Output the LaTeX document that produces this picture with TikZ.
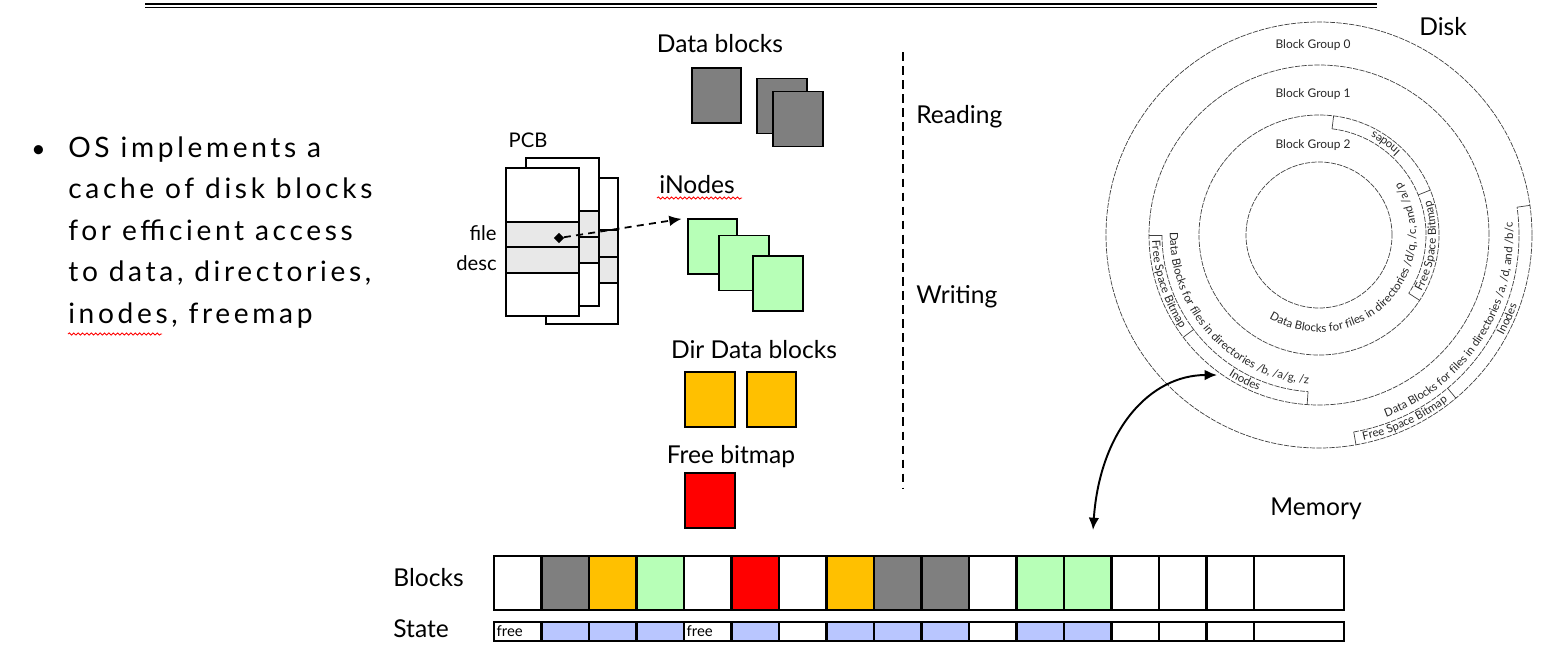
\documentclass[tikz,border=0pt]{standalone}
\usepackage{fontspec}
\setmainfont{Lato}
\newfontfamily\spacedfont[LetterSpace=13]{Lato}
\usetikzlibrary{arrows.meta,shapes.geometric,decorations.text,decorations.pathmorphing}
\newcommand{\ringfont}{\fontsize{6.5}{7.5}\selectfont}

\definecolor{blkgray}{HTML}{7F7F7F}
\definecolor{dirorange}{HTML}{FFC000}
\definecolor{inogreen}{HTML}{B7FFB7}
\definecolor{bmred}{HTML}{FF0000}
\definecolor{stblue}{HTML}{B9C6FF}
\definecolor{pcbgray}{HTML}{E8E8E8}

\begin{document}
\begin{tikzpicture}[x=0.02cm, y=0.02cm, >={Latex[length=7pt,width=6pt]},
    lbl/.style={font=\fontsize{14}{16}\selectfont, inner sep=0pt},
    small/.style={font=\fontsize{11.5}{13}\selectfont, inner sep=0pt},
    sq/.style={draw, line width=1.1pt, minimum width=0.99cm, minimum height=1.1cm, inner sep=0pt},
    cell/.style={draw, line width=1.6pt, minimum width=0.95cm, minimum height=1.08cm, inner sep=0pt},
    st/.style={draw, line width=1.3pt, minimum width=0.95cm, minimum height=0.38cm, inner sep=0pt},
    pcb/.style={line width=0.9pt},
    ring/.style={line width=0.4pt, black!75, dash pattern=on 3pt off 0.7pt},
    tick/.style={line width=0.4pt, black!75},
    grp/.style={font=\fontsize{6.8}{8}\selectfont, text=black!85, inner sep=0pt},
    ringtext/.style={decorate, decoration={text along path, text align=center, text color=black!85}},
    squiggle/.style={red, line width=0.5pt, decorate, decoration={snake, amplitude=0.6pt, segment length=2.5pt}}]

    \useasboundingbox (0,0) rectangle (1545,-654);

    % top rule
    \draw[line width=1.2pt] (145,-4) -- (1377,-4);
    \draw[line width=0.9pt] (145,-7.5) -- (1377,-7.5);

    % bullet text (left)
    \node[lbl, anchor=base west] (bul) at (31,-157) {•};
    \foreach \l [count=\k] in {OS implements a, cache of disk blocks, for efficient access, {to data, directories,}, {inodes, freemap}}
        \node[anchor=base west, inner sep=0pt, font=\spacedfont\fontsize{16}{18}\selectfont] (txt\k) at (68,{-157-41.5*(\k-1)}) {\l};
    \draw[squiggle] (68,-334) -- (162,-334);

    % data blocks
    \node[lbl, anchor=base] (datalbl) at (720,-52) {Data blocks};
    \node[sq, fill=blkgray] (d1) at (716.5,-95.5) {};
    \node[sq, fill=blkgray] (d2) at (782,-106) {};
    \node[sq, fill=blkgray] (d3) at (798,-119) {};

    % PCB (three stacked tables)
    \node[small, anchor=base] (pcblbl) at (528,-147) {PCB};
    \draw[pcb, fill=white] (546,-178) rectangle (618,-324);
    \draw[pcb, fill=pcbgray] (546,-230) rectangle (618,-283);
    \draw[pcb] (546,-257) -- (618,-257);
    \draw[pcb, fill=white] (526,-158) rectangle (599,-306);
    \draw[pcb, fill=pcbgray] (526,-211) rectangle (599,-263);
    \draw[pcb] (526,-237) -- (599,-237);
    \draw[pcb, fill=white] (506,-168) rectangle (579,-316);
    \draw[pcb, fill=pcbgray] (506,-222) rectangle (579,-273);
    \draw[line width=1.6pt] (506,-247) -- (579,-247);
    \node[small, anchor=base east] (filelbl) at (497,-240) {file};
    \node[small, anchor=base east] (desclbl) at (497,-270) {desc};
    \node[diamond, fill, inner sep=0pt, minimum size=6pt] (fd) at (559,-238) {};

    % iNodes
    \node[lbl, anchor=base] (inolbl) at (697,-193) {iNodes};
    \draw[squiggle] (657,-198) -- (742,-198);
    \node[sq, fill=inogreen] (i1) at (712.5,-246.5) {};
    \node[sq, fill=inogreen] (i2) at (744,-263) {};
    \node[sq, fill=inogreen] (i3) at (778,-283.5) {};
    \draw[->, line width=1pt, dash pattern=on 4pt off 3pt, shorten >=3pt] (fd) -- (i1.north west);

    % dir data blocks
    \node[lbl, anchor=base] (dirlbl) at (754,-358) {Dir Data blocks};
    \node[sq, fill=dirorange] (o1) at (710,-399.5) {};
    \node[sq, fill=dirorange] (o2) at (771.5,-399.5) {};

    % free bitmap
    \node[lbl, anchor=base] (fblbl) at (731,-463) {Free bitmap};
    \node[sq, fill=bmred] (r1) at (710,-500.5) {};

    % reading / writing split
    \draw[line width=1.1pt, dash pattern=on 5pt off 3pt] (903,-52) -- (903,-488);
    \node[lbl, anchor=base west] (rdlbl) at (916,-123) {Reading};
    \node[lbl, anchor=base west] (wrlbl) at (916,-303) {Writing};

    % memory: blocks and state
    \node[lbl, anchor=base] (memlbl) at (1316,-515) {Memory};
    \node[lbl, anchor=base west] (blklbl) at (393,-586) {Blocks};
    \node[lbl, anchor=base west] (stlbl) at (393,-637) {State};
    \foreach \c [count=\i] in {white,blkgray,dirorange,inogreen,white,bmred,white,dirorange,blkgray,blkgray,white,inogreen,inogreen,white,white,white}
        \node[cell, fill=\c] (b\i) at ({494+47.5*(\i-0.5)},-583) {};
    \node[cell, line width=1.1pt, minimum width=1.8cm] (b17) at (1299,-583) {};
    \foreach \c [count=\i] in {white,stblue,stblue,stblue,white,stblue,white,stblue,stblue,stblue,white,stblue,stblue,white,white,white}
        \node[st, fill=\c] (s\i) at ({494+47.5*(\i-0.5)},-631.5) {};
    \node[st, minimum width=1.8cm] (s17) at (1299,-631.5) {};
    \node[anchor=west, inner sep=2pt, font=\fontsize{8.5}{9}\selectfont] (f1) at (s1.west) {free};
    \node[anchor=west, inner sep=2pt, font=\fontsize{8.5}{9}\selectfont] (f5) at (s5.west) {free};

    % disk
    \node[lbl, anchor=base] (disklbl) at (1443,-35) {Disk};
    \begin{scope}[shift={(1319,-235)}]
        \foreach \r in {213,170,120,73}
            \draw[ring] (0,0) circle[radius=\r];
        \node[grp] (bg0) at (-6,190) {Block Group 0};
        \node[grp] (bg1) at (-6,141) {Block Group 1};
        \node[grp] (bg2) at (-6,90) {Block Group 2};

        % group 2
        \draw[ring] (83:107) arc[start angle=83, end angle=-33, radius=107];
        \foreach \a in {83,22,-33}
            \draw[tick] (\a:107) -- (\a:120);
        \path[ringtext, decoration={text={|\ringfont|Inodes}}] (16:117) arc[start angle=16, end angle=92, radius=117];
        \path[ringtext, decoration={text={|\ringfont|Free Space Bitmap}}] (-50:117) arc[start angle=-50, end angle=38, radius=117];
        \path[ringtext, decoration={text={|\ringfont|Data Blocks for files in directories /d/q, /c, and /a/p}}] (-192:97) arc[start angle=-192, end angle=104, radius=97];

        % group 1
        \draw[ring] (180:157) arc[start angle=180, end angle=266, radius=157];
        \foreach \a in {180,217,266}
            \draw[tick] (\a:157) -- (\a:170);
        \path[ringtext, decoration={text={|\ringfont|Free Space Bitmap}}] (150:167) arc[start angle=150, end angle=246, radius=167];
        \path[ringtext, decoration={text={|\ringfont|Inodes}}] (213:167) arc[start angle=213, end angle=273, radius=167];
        \path[ringtext, decoration={text={|\ringfont|Data Blocks for files in directories /b, /a/g, /z}}] (130:149) arc[start angle=130, end angle=315, radius=149];

        % group 0
        \draw[ring] (-80:200) arc[start angle=-80, end angle=8, radius=200];
        \foreach \a in {-80,-50,8}
            \draw[tick] (\a:200) -- (\a:213);
        \path[ringtext, decoration={text={|\ringfont|Free Space Bitmap}}] (-110:210) arc[start angle=-110, end angle=-20, radius=210];
        \path[ringtext, decoration={text={|\ringfont|Inodes}}] (-54:210) arc[start angle=-54, end angle=6, radius=210];
        \path[ringtext, decoration={text={|\ringfont|Data Blocks for files in directories /a, /d, and /b/c}}] (-120:194) arc[start angle=-120, end angle=54, radius=194];
    \end{scope}

    % memory <-> disk
    \coordinate (memtip) at (1093,-530);
    \coordinate (disktip) at (1217,-375);
    \draw[<->, line width=1.1pt] (memtip) .. controls (1100,-430) and (1150,-375) .. (disktip);
\end{tikzpicture}
\end{document}
